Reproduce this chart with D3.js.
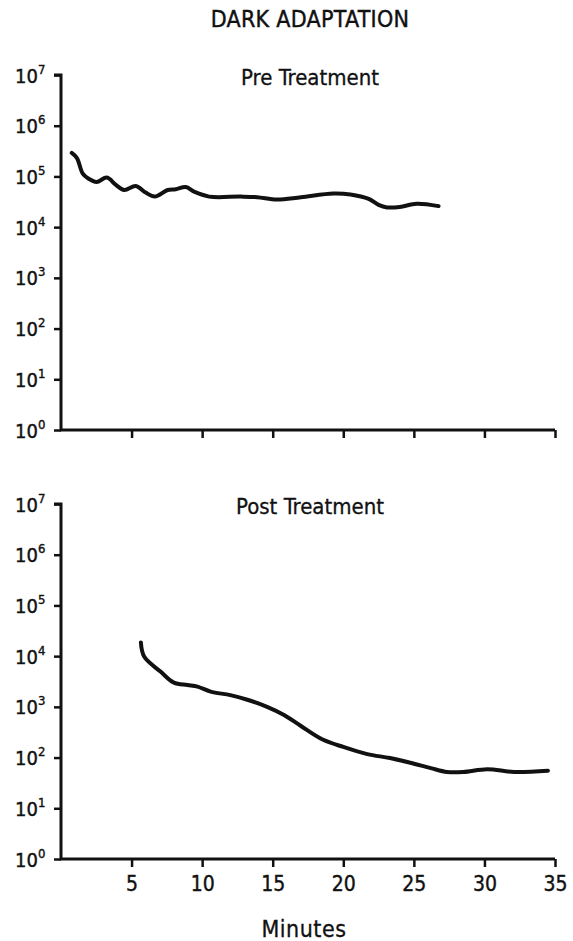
<!DOCTYPE html>
<meta charset="utf-8">
<script src="https://d3js.org/d3.v7.min.js"></script>
<style>
  body { margin: 0; background: #fff; }
  text { font-family: "DejaVu Sans Condensed", "DejaVu Sans", sans-serif; fill: #111; }
</style>
<body>
<svg id="vis" width="573" height="941"></svg>
<script>
// minutes in the dark vs threshold
var preMinutes = [0.76, 1.13, 1.53, 1.93, 2.52, 3.25, 3.89, 4.48, 5.3, 6.0, 6.65, 7.55, 8.13, 8.84, 9.43, 10.49, 12.73, 13.9, 15.3, 17.0, 19.3, 20.5, 21.8, 22.5, 23.1, 24.0, 25.2, 26.75];
var preValues  = [2.9e5, 2.3e5, 1.15e5, 9.1e4, 7.8e4, 9.5e4, 6.8e4, 5.4e4, 6.5e4, 4.8e4, 4.0e4, 5.4e4, 5.6e4, 6.2e4, 5.0e4, 4.0e4, 4.0e4, 3.9e4, 3.5e4, 3.9e4, 4.6e4, 4.4e4, 3.6e4, 2.75e4, 2.45e4, 2.5e4, 2.9e4, 2.6e4];

var postMinutes = [5.66, 5.89, 7.07, 8.0, 8.96, 9.67, 10.6, 12.0, 13.2, 14.6, 15.8, 17.0, 18.5, 20.0, 21.7, 23.3, 24.75, 26.2, 27.35, 28.5, 30.2, 32.1, 34.5];
var postValues  = [1.86e4, 9.8e3, 4.9e3, 3.0e3, 2.7e3, 2.5e3, 2.0e3, 1.7e3, 1.38e3, 1.0e3, 690, 420, 230, 162, 117, 98, 79, 62, 52, 52, 59, 52, 55];

var xTicks = [5, 10, 15, 20, 25, 30, 35];
var yTicks = [1, 10, 100, 1e3, 1e4, 1e5, 1e6, 1e7];

var svg = d3.select("#vis");

var x = d3.scaleLinear().domain([0, 35]).range([61, 555]);

svg.append("text")
  .attr("x", 310).attr("y", 27)
  .attr("text-anchor", "middle")
  .attr("font-size", "23px")
  .attr("letter-spacing", "0.3px")
  .attr("stroke", "#111").attr("stroke-width", 0.4)
  .text("DARK ADAPTATION");

function panel(top, bottom, title, xs, vs, showLabels) {
  var y = d3.scaleLog().domain([1, 1e7]).range([bottom, top]);
  var g = svg.append("g");

  // y axis
  var ya = g.append("g")
    .attr("transform", "translate(" + x(0) + ",0)")
    .call(d3.axisLeft(y).tickValues(yTicks).tickSize(7).tickFormat(function() { return ""; }));
  ya.select(".domain").remove();
  ya.selectAll(".tick line").attr("stroke", "#111").attr("stroke-width", 2.5);
  ya.selectAll(".tick").each(function(d) {
    var t = d3.select(this).append("text")
      .attr("x", -46).attr("y", 7)
      .attr("text-anchor", "start")
      .attr("font-size", "20px")
      .attr("stroke", "#111").attr("stroke-width", 0.4)
      .attr("fill", "#111");
    t.append("tspan").text("10");
    t.append("tspan").attr("dy", -9).attr("font-size", "13px").text(Math.round(Math.log10(d)));
  });

  // x axis
  var xa = g.append("g")
    .attr("transform", "translate(0," + bottom + ")")
    .call(d3.axisBottom(x).tickValues(xTicks).tickSize(8).tickFormat(function(d) { return showLabels ? d : ""; }));
  xa.select(".domain").remove();
  xa.selectAll(".tick line").attr("stroke", "#111").attr("stroke-width", 2.5);
  xa.selectAll(".tick text")
    .attr("font-size", "21px").attr("dy", "1.0em").attr("fill", "#111")
    .attr("stroke", "#111").attr("stroke-width", 0.4);

  // axis frame lines
  g.append("path")
    .attr("d", "M" + (x(0) - 7) + "," + y(1e7) + "H" + x(0) + "V" + y(1) + "H" + x(35))
    .attr("fill", "none").attr("stroke", "#111").attr("stroke-width", 3);

  g.append("text")
    .attr("x", 310).attr("y", top + 10)
    .attr("text-anchor", "middle")
    .attr("font-size", "22px")
    .attr("stroke", "#111").attr("stroke-width", 0.3)
    .text(title);

  var data = xs.map(function(m, i) { return [m, vs[i]]; });
  g.append("path")
    .datum(data)
    .attr("d", d3.line()
      .x(function(d) { return x(d[0]); })
      .y(function(d) { return y(d[1]); })
      .curve(d3.curveCatmullRom))
    .attr("fill", "none")
    .attr("stroke", "#111")
    .attr("stroke-width", 4)
    .attr("stroke-linecap", "round");
}

panel(75, 430, "Pre Treatment", preMinutes, preValues, false);
panel(504, 859, "Post Treatment", postMinutes, postValues, true);

svg.append("text")
  .attr("x", 304).attr("y", 937)
  .attr("text-anchor", "middle")
  .attr("font-size", "23px")
  .attr("letter-spacing", "0.5px")
  .attr("stroke", "#111").attr("stroke-width", 0.3)
  .text("Minutes");
</script>
</body>
